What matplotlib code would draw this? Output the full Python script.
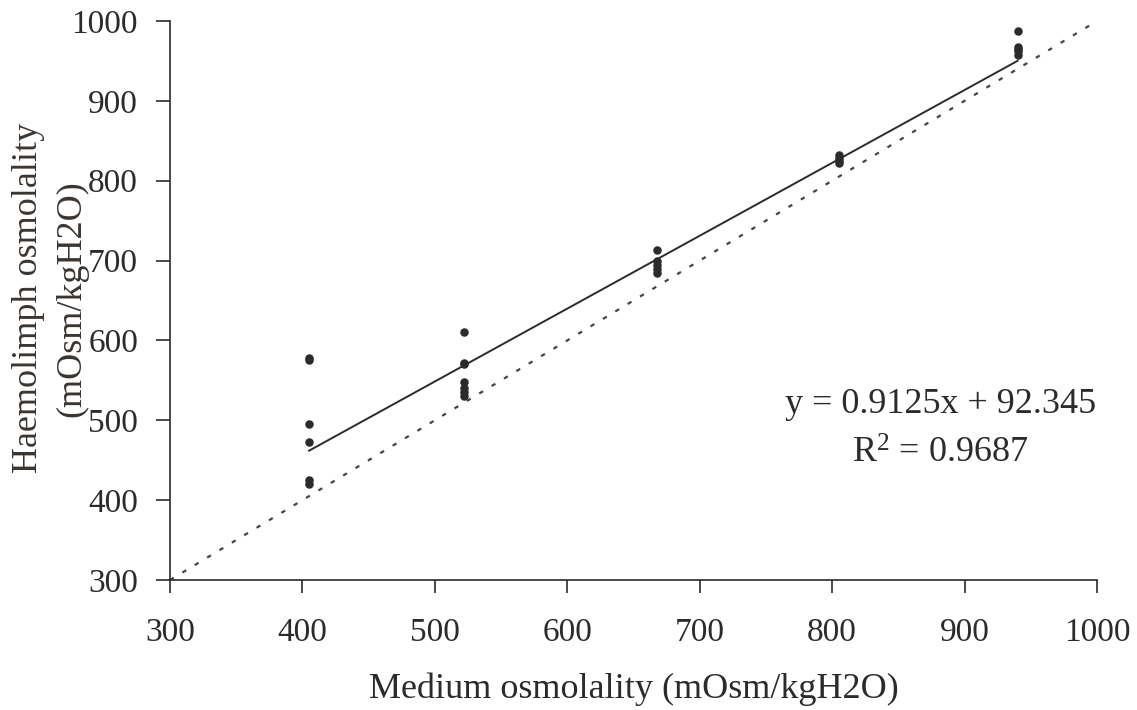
import matplotlib.pyplot as plt
import numpy as np

plt.rcParams['font.family'] = ['Liberation Serif', 'DejaVu Serif']

# measured points (medium, haemolymph)
medium = [405, 405, 405, 405, 405, 405,
          522, 522, 522, 522, 522, 522, 522,
          668, 668, 668, 668, 668,
          805, 805, 805, 805,
          940, 940, 940, 940, 940]
haemo = [578, 575, 495, 473, 425, 420,
         610, 572, 570, 548, 540, 535, 530,
         713, 700, 695, 690, 685,
         832, 828, 825, 822,
         988, 968, 965, 962, 958]

slope = 0.9125
intercept = 92.345
r2 = 0.9687

iso_x = [300, 1000]

fig = plt.figure(figsize=(11.37, 7.10), dpi=100)
ax = fig.add_axes([170 / 1137, 1 - 580 / 710, (1097 - 170) / 1137, (580 - 21) / 710])

ink = '#2b2b2b'

# isosmotic line
ax.plot(iso_x, iso_x, color='#444444', lw=1.6, linestyle=(0, (2, 4.5)))

# regression line over the data range
fx = np.array([min(medium), max(medium)])
ax.plot(fx, slope * fx + intercept, color=ink, lw=1.4)

ax.scatter(medium, haemo, s=26, color=ink, zorder=3)

ax.set_xlim(300, 1000)
ax.set_ylim(300, 1000)
ax.set_xticks(range(300, 1001, 100))
ax.set_yticks(range(300, 1001, 100))

for s in ['top', 'right']:
    ax.spines[s].set_visible(False)
for s in ['left', 'bottom']:
    ax.spines[s].set_color(ink)
    ax.spines[s].set_linewidth(1.2)

ax.tick_params(axis='x', direction='out', length=9, width=1.2, colors=ink,
               labelsize=24, pad=18)
ax.tick_params(axis='y', direction='out', length=10, width=1.2, colors=ink,
               labelsize=24, pad=13)

ax.set_xlabel('Medium osmolality (mOsm/kgH2O)', fontsize=26, color=ink, labelpad=18)
fig.text(29 / 1137, 1 - 298 / 710, 'Haemolimph osmolality', rotation=90,
         fontsize=26, color='#3a3530', ha='center', va='center')
fig.text(72 / 1137, 1 - 299 / 710, '(mOsm/kgH2O)', rotation=90,
         fontsize=26, color='#3a3530', ha='center', va='center')

ax.text(882, 520, 'y = %.4fx + %.3f' % (slope, intercept), fontsize=26,
        color=ink, ha='center', va='center')
ax.text(882, 458, '$\\mathregular{R^2}$ = %.4f' % r2, fontsize=26,
        color=ink, ha='center', va='center')

fig.savefig('out.png', dpi=100)
